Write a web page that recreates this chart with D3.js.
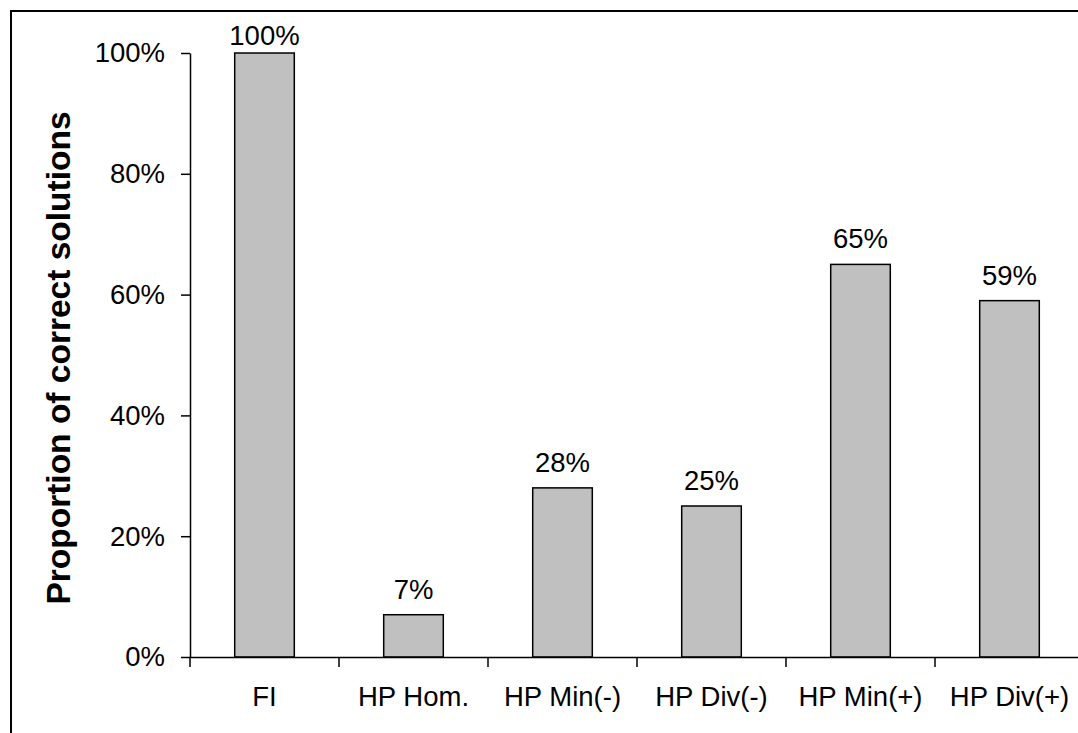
<!DOCTYPE html>
<html>
<head>
<meta charset="utf-8">
<script src="https://cdn.jsdelivr.net/npm/d3@7/dist/d3.min.js"></script>
<style>
  html, body { margin: 0; padding: 0; background: #fff; }
  svg { display: block; font-family: Arial, "Liberation Sans", sans-serif; }
</style>
</head>
<body>
<svg id="chart" width="1078" height="733"></svg>
<script>
const categories = ["FI", "HP Hom.", "HP Min(-)", "HP Div(-)", "HP Min(+)", "HP Div(+)"];
const values = [1.00, 0.07, 0.28, 0.25, 0.65, 0.59];
const valueLabels = ["100%", "7%", "28%", "25%", "65%", "59%"];
const yTicks = [0, 0.2, 0.4, 0.6, 0.8, 1.0];
const yTitle = "Proportion of correct solutions";

(function () {
const svg = d3.select("#chart");

// outer frame (extends beyond the picture on the right and bottom)
svg.append("rect")
  .attr("x", 11).attr("y", 11)
  .attr("width", 1200).attr("height", 900)
  .attr("fill", "none").attr("stroke", "#000").attr("stroke-width", 2);

const pLeft = 190, pRight = 1084, pTop = 53, pBottom = 657;
const fs = 27.5;

const x = d3.scaleBand().domain(categories).range([pLeft, pRight]).padding(0);
const y = d3.scaleLinear().domain([0, 1]).range([pBottom, pTop]);
const barW = x.bandwidth() * 0.4;

// bars
svg.append("g").selectAll("rect")
  .data(categories)
  .join("rect")
  .attr("x", (c) => x(c) + x.bandwidth() / 2 - barW / 2)
  .attr("y", (c, i) => y(values[i]))
  .attr("width", barW)
  .attr("height", (c, i) => y(0) - y(values[i]))
  .attr("fill", "#c0c0c0")
  .attr("stroke", "#000")
  .attr("stroke-width", 1.5);

// value labels
svg.append("g").selectAll("text")
  .data(categories)
  .join("text")
  .attr("x", (c) => x(c) + x.bandwidth() / 2)
  .attr("y", (c, i) => Math.max(y(values[i]) - 16, 45))
  .attr("text-anchor", "middle")
  .attr("font-size", fs)
  .attr("fill", "#000")
  .text((c, i) => valueLabels[i]);

// y axis
const yAxis = svg.append("g")
  .attr("transform", `translate(${pLeft},0)`)
  .call(d3.axisLeft(y).tickValues(yTicks).tickFormat(d3.format(".0%")).tickSize(9).tickSizeOuter(0).tickPadding(16));
yAxis.select(".domain").attr("stroke", "#000").attr("stroke-width", 1.5);
yAxis.selectAll(".tick line").attr("stroke", "#000").attr("stroke-width", 1.5);
yAxis.selectAll(".tick text").attr("font-size", fs).attr("fill", "#000")
  .attr("font-family", "Arial, 'Liberation Sans', sans-serif");

// x axis: labels at band centres, ticks at band boundaries
const xAxis = svg.append("g")
  .attr("transform", `translate(0,${pBottom})`)
  .call(d3.axisBottom(x).tickSize(0).tickSizeOuter(0).tickPadding(29));
xAxis.select(".domain").attr("stroke", "#000").attr("stroke-width", 1.5);
xAxis.selectAll(".tick text").attr("font-size", fs).attr("fill", "#000")
  .attr("font-family", "Arial, 'Liberation Sans', sans-serif");

svg.append("g").selectAll("line")
  .data(categories)
  .join("line")
  .attr("x1", (c) => x(c)).attr("x2", (c) => x(c))
  .attr("y1", pBottom).attr("y2", pBottom + 10)
  .attr("stroke", "#000").attr("stroke-width", 1.5);

// y title
svg.append("text")
  .attr("transform", `translate(70,${(pTop + pBottom) / 2 + 3}) rotate(-90)`)
  .attr("text-anchor", "middle")
  .attr("font-size", 33.5)
  .attr("font-weight", "bold")
  .attr("fill", "#000")
  .text(yTitle);
})();
</script>
</body>
</html>
